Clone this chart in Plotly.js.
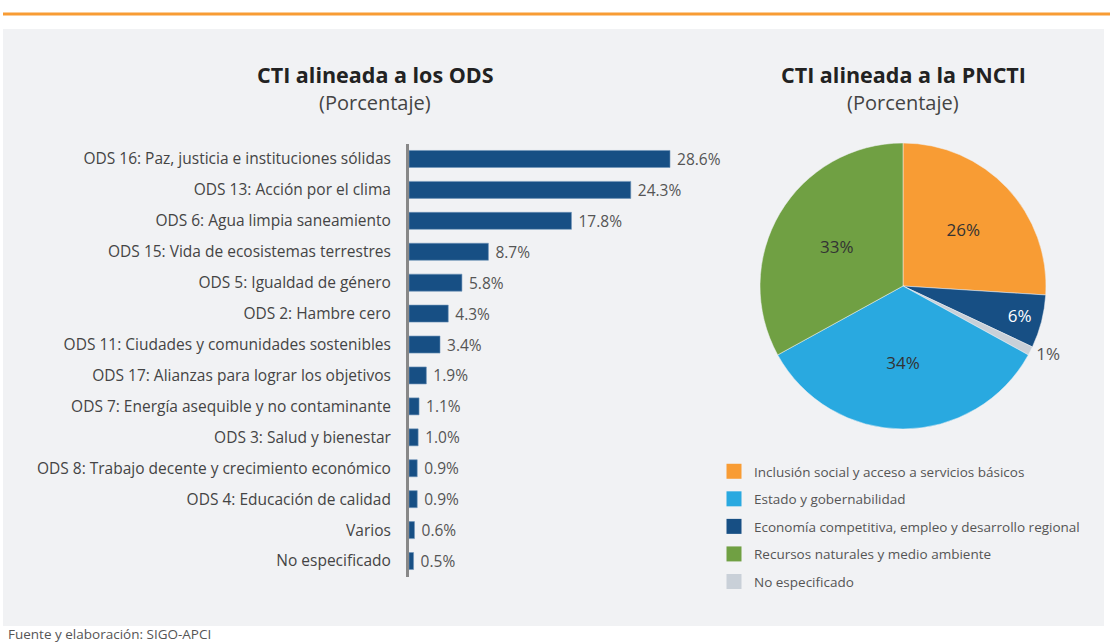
<!DOCTYPE html>
<html><head><meta charset="utf-8">
<script src="https://cdn.plot.ly/plotly-3.0.1.min.js"></script>
<style>html,body{margin:0;padding:0;background:#fff}#c{width:1110px;height:642px}</style>
</head><body><div id="c"></div>
<script>
const odsCategories = [
  "ODS 16: Paz, justicia e instituciones sólidas",
  "ODS 13: Acción por el clima",
  "ODS 6: Agua limpia saneamiento",
  "ODS 15: Vida de ecosistemas terrestres",
  "ODS 5: Igualdad de género",
  "ODS 2: Hambre cero",
  "ODS 11: Ciudades y comunidades sostenibles",
  "ODS 17: Alianzas para lograr los objetivos",
  "ODS 7: Energía asequible y no contaminante",
  "ODS 3: Salud y bienestar",
  "ODS 8: Trabajo decente y crecimiento económico",
  "ODS 4: Educación de calidad",
  "Varios",
  "No especificado"
];
const odsValues = [28.6, 24.3, 17.8, 8.7, 5.8, 4.3, 3.4, 1.9, 1.1, 1.0, 0.9, 0.9, 0.6, 0.5];

const pnctiLabels = [
  "Inclusión social y acceso a servicios básicos",
  "Economía competitiva, empleo y desarrollo regional",
  "No especificado",
  "Estado y gobernabilidad",
  "Recursos naturales y medio ambiente"
];
const pnctiValues = [26, 6, 1, 34, 33];
const pnctiColors = ["#f89c34", "#174f84", "#c9d0d8", "#29a9e0", "#70a043"];

const legendOrder = [
  "Inclusión social y acceso a servicios básicos",
  "Estado y gobernabilidad",
  "Economía competitiva, empleo y desarrollo regional",
  "Recursos naturales y medio ambiente",
  "No especificado"
];

const W = 1110, H = 642;
const px = v => v / W, py = v => 1 - v / H;
const FONT = "'Open Sans', sans-serif";

const traces = [];
traces.push({
  type: "bar", orientation: "h",
  x: odsValues, y: odsCategories,
  marker: {color: "#174f84", line: {color: "#6f94b8", width: 0.6}},
  width: 0.55,
  text: odsValues.map(v => " " + v.toFixed(1) + "%"),
  textposition: "outside",
  constraintext: "none",
  textfont: {family: FONT, size: 15.5, color: "#555"},
  cliponaxis: false,
  showlegend: false, hoverinfo: "skip",
  xaxis: "x", yaxis: "y"
});
traces.push({
  type: "pie", values: pnctiValues, labels: pnctiLabels,
  sort: false, direction: "clockwise", rotation: 0,
  marker: {colors: pnctiColors, line: {color: "#f1f2f4", width: 0.5}},
  texttemplate: "%{value}%",
  textposition: ["inside", "inside", "outside", "inside", "inside"],
  insidetextorientation: "horizontal",
  insidetextfont: {family: FONT, size: 17, color: ["#333", "#fff", "#333", "#333", "#333"]},
  outsidetextfont: {family: FONT, size: 17, color: "#555"},
  domain: {x: [px(760), px(1046)], y: [py(429), py(143)]},
  showlegend: false, hoverinfo: "skip"
});
legendOrder.forEach((name, i) => {
  const c = pnctiColors[pnctiLabels.indexOf(name)];
  traces.push({
    type: "scatter", mode: "markers", x: [null], y: [null], name: name,
    marker: {symbol: "square", size: 15, color: c},
    legendgroup: "g" + i, xaxis: "x2", yaxis: "y2", hoverinfo: "skip"
  });
});

const ann = (text, x, y, size, color, bold, xanchor) => ({
  text: bold ? "<b>" + text + "</b>" : text, x: px(x), y: py(y),
  xref: "paper", yref: "paper", xanchor: xanchor || "center", yanchor: "middle",
  showarrow: false, font: {family: FONT, size: size, color: color}
});

const layout = {
  width: W, height: H,
  margin: {l: 0, r: 0, t: 0, b: 0},
  paper_bgcolor: "#ffffff", plot_bgcolor: "rgba(0,0,0,0)",
  font: {family: FONT, color: "#444"},
  showlegend: true,
  legend: {x: px(714), y: py(456), xanchor: "left", yanchor: "top",
    bgcolor: "rgba(0,0,0,0)", font: {family: FONT, size: 13.5, color: "#555"},
    tracegroupgap: 7, itemwidth: 30},
  xaxis: {domain: [px(409), px(720)], range: [0, 28.6 * (720 - 409) / (670 - 409)],
    visible: false, fixedrange: true},
  yaxis: {domain: [py(576.5), py(143.5)], autorange: "reversed",
    showline: true, linecolor: "#888", linewidth: 3, showgrid: false, zeroline: false,
    ticks: "outside", ticklen: 12, tickcolor: "rgba(0,0,0,0)",
    tickfont: {family: FONT, size: 15.5, color: "#444"}, fixedrange: true},
  xaxis2: {domain: [0, 0.01], visible: false},
  yaxis2: {domain: [0, 0.01], visible: false},
  shapes: [
    {type: "rect", xref: "paper", yref: "paper", x0: px(3), x1: px(1104), y0: py(626), y1: py(29),
     fillcolor: "#f1f2f4", line: {width: 0}, layer: "below"},
    {type: "line", xref: "paper", yref: "paper", x0: px(3), x1: 1, y0: py(14), y1: py(14),
     line: {color: "#f89c34", width: 3}}
  ],
  annotations: [
    ann("CTI alineada a los ODS", 375, 74, 21.5, "#222", true),
    ann("(Porcentaje)", 375, 102, 20, "#444", false),
    ann("CTI alineada a la PNCTI", 903, 74, 21.5, "#222", true),
    ann("(Porcentaje)", 903, 102, 20, "#444", false),
    ann("Fuente y elaboración: SIGO-APCI", 6, 634, 13.5, "#555", false, "left")
  ]
};
Plotly.newPlot("c", traces, layout, {displayModeBar: false, staticPlot: true});
</script></body></html>
